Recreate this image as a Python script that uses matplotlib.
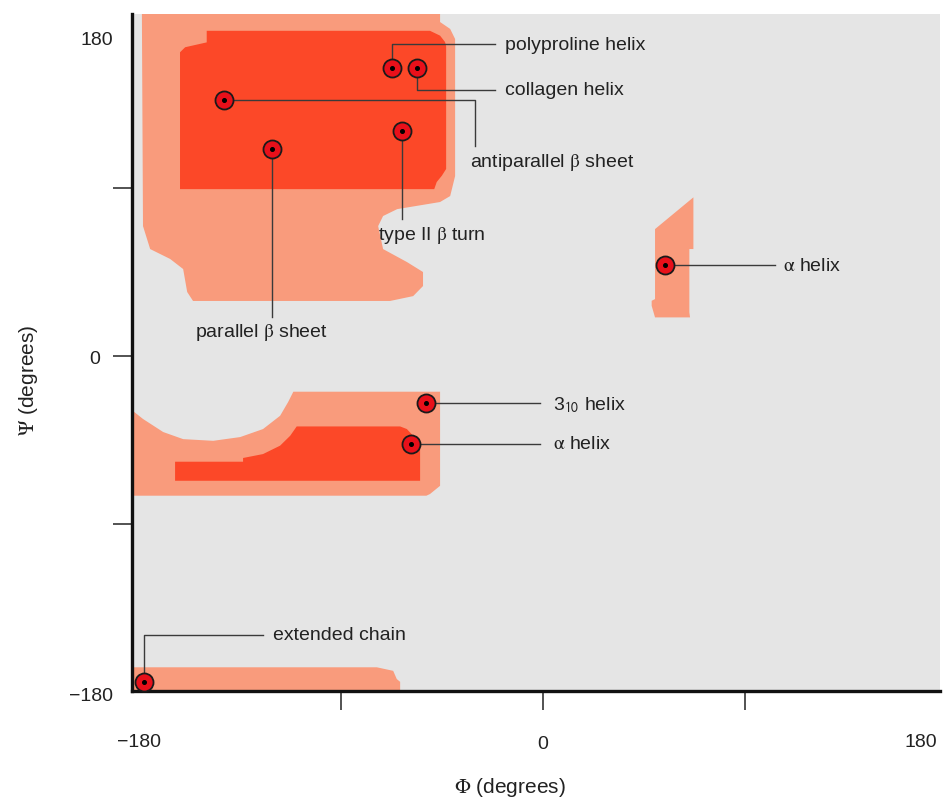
import matplotlib
matplotlib.use("Agg")
import matplotlib.pyplot as plt
from matplotlib.patches import Polygon

plt.rcParams['font.family'] = ['Liberation Sans', 'DejaVu Sans']
plt.rcParams['mathtext.fontset'] = 'stix'

# Allowed regions (phi, psi)
outer_beta = [(-178.8, 185), (-45.9, 185), (-45.9, 178.9), (-41.4, 175.2), (-39.2, 169.8),
              (-39.2, 96.4), (-41.4, 85.7), (-45.9, 82.5), (-65.0, 78.7), (-71.3, 75.0),
              (-73.5, 69.6), (-71.3, 57.3), (-60.6, 50.3), (-53.5, 45.0), (-53.5, 37.5),
              (-57.9, 32.1), (-68.2, 29.5), (-156.0, 29.5), (-158.6, 34.3), (-160.4, 46.6),
              (-166.2, 52.0), (-175.1, 57.3), (-178.3, 69.6)]
core_beta = [(-149.9, 174.2), (-50.4, 174.2), (-45.9, 171.6), (-43.7, 168.2), (-43.2, 166.0),
             (-43.2, 100.2), (-45.1, 96.6), (-47.4, 93.2), (-48.5, 89.4), (-161.8, 89.4),
             (-161.8, 162.7), (-159.5, 165.4), (-149.9, 168.0)]
outer_alpha = [(-111.3, -19.1), (-45.9, -19.1), (-45.9, -69.5), (-50.4, -73.9), (-52.0, -74.8),
               (-185, -74.8), (-185, -27.3), (-178.3, -33.7), (-169.3, -40.7), (-160.4, -44.5),
               (-147.0, -45.4), (-135.0, -43.4), (-124.8, -39.1), (-117.2, -32.0), (-113.6, -24.6)]
core_alpha = [(-109.8, -37.7), (-63.7, -37.7), (-60.7, -39.1), (-57.9, -42.7), (-54.8, -45.0),
              (-54.8, -66.8), (-164.0, -66.8), (-164.0, -56.6), (-133.7, -56.6), (-133.7, -54.6),
              (-124.8, -52.5), (-117.2, -48.0), (-112.7, -42.7)]
outer_ext = [(-185, -166.7), (-74.1, -166.7), (-66.8, -168.6), (-65.2, -173.0), (-63.7, -174.5),
             (-63.7, -185), (-185, -185)]
outer_left = [(67.0, 85.0), (67.0, 57.3), (65.2, 57.3), (65.2, 23.4), (65.5, 20.7),
              (49.9, 20.7), (48.4, 26.9), (48.4, 29.6), (49.9, 30.5), (49.9, 68.0)]

# Secondary structures
names = ["polyproline helix", "collagen helix", r"antiparallel $\mathrm{\beta}$ sheet",
         r"type II $\mathrm{\beta}$ turn", r"parallel $\mathrm{\beta}$ sheet",
         r"$\mathrm{\alpha}$ helix", r"3$_{\mathsf{10}}$ helix", r"$\mathrm{\alpha}$ helix",
         "extended chain"]
phi = [-67.3, -56.0, -142.0, -63.0, -121.0, 54.4, -52.0, -59.0, -178.0]
psi = [154.3, 154.3, 137.4, 120.5, 111.0, 48.7, -25.0, -47.0, -174.6]

# leader line corner / end points and label anchors (layout)
leaders = [
    [(-67.3, 167.1), (-21.4, 167.1)],
    [(-56.0, 142.5), (-21.4, 142.5)],
    [(-30.3, 137.4), (-30.3, 112.5)],
    [(-63.0, 73.4)],
    [(-121.0, 20.9)],
    [(103.4, 48.7)],
    [(-1.3, -25.0)],
    [(-1.3, -47.0)],
    [(-178.0, -149.4), (-124.8, -149.4)],
]
label_xy = [(-16.9, 167.1), (-16.9, 142.5), (-32.5, 104.0), (-73.5, 65.3), (-155.0, 12.9),
            (107.0, 48.7), (4.5, -25.5), (4.5, -47.0), (-120.3, -149.4)]

light = "#F99B7C"
dark = "#FC4828"
bg = "#E5E5E5"
txt = "#222222"

fig = plt.figure(figsize=(9.44, 8.03), dpi=100)
ax = fig.add_axes([132 / 944, 111 / 803, 808 / 944, 677 / 803])
ax.set_facecolor(bg)
ax.set_xlim(-183.2, 176.9)
ax.set_ylim(-179.4, 183.2)

for poly, col in [(outer_beta, light), (core_beta, dark), (outer_alpha, light),
                  (core_alpha, dark), (outer_ext, light), (outer_left, light)]:
    ax.add_patch(Polygon(poly, closed=True, facecolor=col, edgecolor="none", zorder=1))

for x0, y0, path, (tx, ty), name in zip(phi, psi, leaders, label_xy, names):
    xs = [x0] + [p[0] for p in path]
    ys = [y0] + [p[1] for p in path]
    ax.plot(xs, ys, color="#3a3a3a", lw=1.0, zorder=2)
    ax.text(tx, ty, name, fontsize=14, color=txt, ha="left", va="center", zorder=4)

ax.plot(phi, psi, "o", ms=13, mfc="#E8101A", mec="#1a1a1a", mew=1.3, ls="none", zorder=3,
        clip_on=False)
ax.plot(phi, psi, "o", ms=2.6, mfc="black", mec="black", ls="none", zorder=3, clip_on=False)

for s in ["top", "right"]:
    ax.spines[s].set_visible(False)
for s in ["left", "bottom"]:
    ax.spines[s].set_linewidth(2.4)
    ax.spines[s].set_color("#111111")

ax.set_xticks([-90, 0, 90])
ax.set_xticklabels(["", "0", ""])
ax.set_yticks([-90, 0, 90])
ax.set_yticklabels(["", "0", ""])
ax.tick_params(axis="both", length=14, width=1.3, color="#444444", labelsize=14,
               labelcolor=txt)
ax.tick_params(axis="x", pad=18)
ax.tick_params(axis="y", pad=9)

# end labels of the axes
ax.text(-180, -206.2, "\u2212180", fontsize=14, color=txt, ha="center", va="center",
        clip_on=False)
ax.text(168.4, -206.2, "180", fontsize=14, color=txt, ha="center", va="center",
        clip_on=False)
ax.text(-191.6, 169.8, "180", fontsize=14, color=txt, ha="right", va="center",
        clip_on=False)
ax.text(-191.6, -182.0, "\u2212180", fontsize=14, color=txt, ha="right", va="center",
        clip_on=False)

fig.text(510 / 944, 1 - 788 / 803, r"$\Phi$ (degrees)", fontsize=15, color=txt,
         ha="center", va="center")
fig.text(28 / 944, 1 - 380 / 803, r"$\Psi$ (degrees)", fontsize=15, color=txt,
         ha="center", va="center", rotation=90)

fig.savefig("out.png", dpi=100, facecolor="white")
